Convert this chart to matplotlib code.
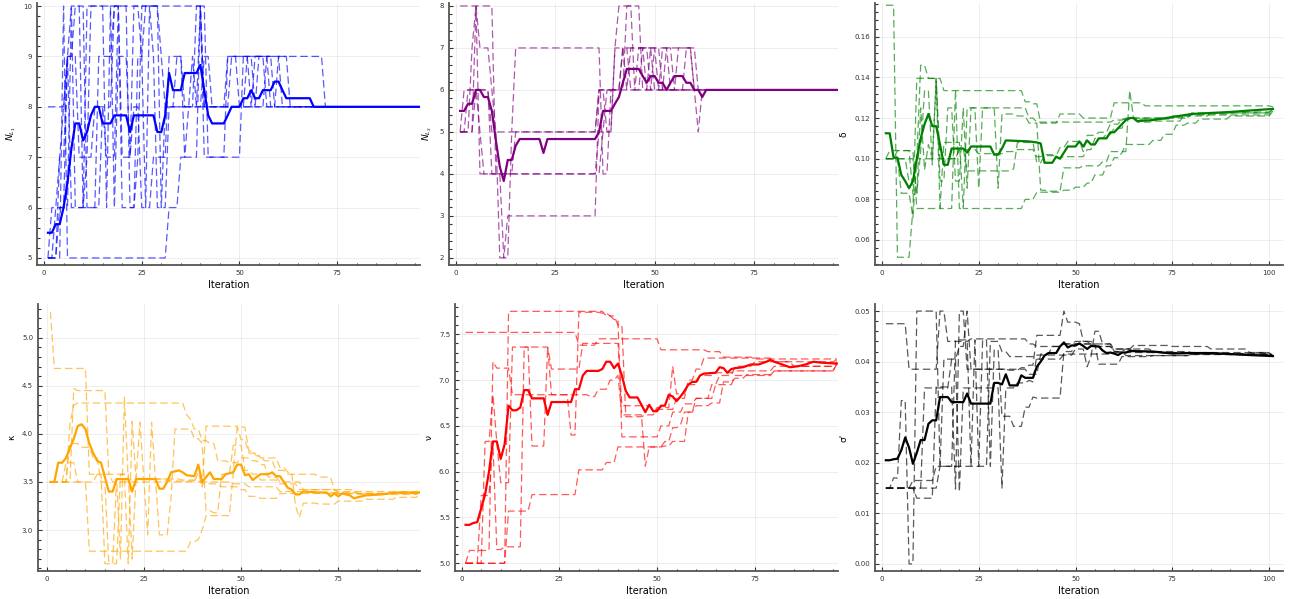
import numpy as np
import matplotlib
matplotlib.use("Agg")
from matplotlib import pyplot as plt
from matplotlib.ticker import AutoMinorLocator

# ---- data (change points: iteration -> value, held until next change) ----
n_short = 96
n_long = 101

nl1_runs = [
    [(1,8),(6,9),(7,10),(9,10),(10,6),(11,10),(15,10),(16,6),(17,10),(25,9),(26,10),(41,7),(47,9),(72,8)],
    [(1,5),(2,6),(4,7),(5,8),(6,9),(8,9),(9,7),(12,10),(18,6),(19,9),(22,7),(23,10),(30,9),(31,8),(40,10),(42,7),(51,9),(53,8),(55,9),(58,8)],
    [(1,5),(3,6),(5,6),(6,9),(8,10),(11,6),(14,9),(18,10),(22,6),(24,9),(26,6),(27,10),(28,9),(29,6),(32,8),(38,9),(39,8)],
    [(1,5),(5,10),(6,5),(31,5),(32,6),(35,7),(37,8),(39,10),(41,8),(47,9),(61,8)],
    [(1,5),(4,6),(7,10),(8,6),(15,8),(16,7),(19,10),(20,6),(24,7),(25,10),(30,6),(31,8),(34,9),(36,7),(40,10),(41,8),(54,9),(57,8),(60,9),(63,8)],
    [(1,5),(4,7),(6,9),(7,6),(11,7),(13,8),(18,10),(20,7),(23,8),(25,6),(28,7),(32,9),(36,8),(41,9),(43,8),(48,9),(50,8),(52,9),(54,8),(57,9),(59,8)],
]
nl1_mean = [(1,5.5),(2,5.5),(3,5.67),(4,5.67),(5,6.0),(6,6.5),(7,7.17),(8,7.67),(9,7.67),(10,7.33),(11,7.5),(12,7.83),
            (13,8.0),(14,8.0),(15,7.67),(17,7.67),(18,7.83),(21,7.83),(22,7.5),(23,7.83),(28,7.83),(29,7.5),(30,7.5),
            (31,7.83),(32,8.67),(33,8.33),(35,8.33),(36,8.67),(39,8.67),(40,8.83),(41,8.33),(42,7.83),(43,7.67),(46,7.67),
            (47,7.83),(48,8.0),(50,8.0),(51,8.17),(52,8.17),(53,8.33),(54,8.17),(55,8.17),(56,8.33),(58,8.33),(59,8.5),
            (60,8.5),(61,8.33),(62,8.17),(68,8.17),(69,8.0),(96,8.0)]

nl2_runs = [
    [(1,8),(10,4),(37,5),(40,7),(41,8),(47,6),(49,7),(50,6),(53,7),(55,6)],
    [(1,5),(3,6),(9,5),(11,2),(13,3),(36,6),(42,7),(44,6),(47,7),(49,6),(56,7),(61,6)],
    [(1,5),(4,7),(5,8),(6,7),(9,6),(10,5),(15,7),(37,4),(39,6),(42,7),(60,6)],
    [(1,5),(5,8),(6,4),(12,2),(14,5),(36,6),(44,7),(48,6),(52,7),(54,6),(58,7),(60,6)],
    [(1,5),(5,6),(6,5),(7,4),(15,5),(36,6),(38,5),(40,7),(43,6),(46,7),(52,6),(61,5),(62,6)],
    [(1,5),(2,6),(9,4),(36,5),(38,6),(43,8),(45,6),(50,7),(51,6)],
]
nl2_mean = [(1,5.5),(2,5.5),(3,5.67),(4,5.67),(5,6.0),(6,6.0),(7,5.83),(8,5.83),(9,5.5),(10,4.8),(11,4.17),(12,3.83),
            (13,4.33),(14,4.33),(15,4.67),(16,4.83),(21,4.83),(22,4.5),(23,4.83),(35,4.83),(36,5.0),(37,5.5),(39,5.5),
            (40,5.67),(41,5.83),(42,6.17),(43,6.5),(46,6.5),(47,6.33),(48,6.17),(49,6.33),(50,6.33),(51,6.17),(52,6.17),
            (53,6.0),(54,6.17),(55,6.33),(57,6.33),(58,6.17),(59,6.17),(60,6.0),(61,6.0),(62,5.83),(63,6.0),(96,6.0)]

delta_runs = [
    [(1,0.1755),(4,0.0515),(8,0.0755),(9,0.1395),(15,0.0755),(19,0.134),(20,0.0755),(22,0.125),(38,0.120),(40,0.118),
     (60,0.119),(63,0.120),(66,0.1195),(75,0.121),(85,0.1225),(101,0.125)],
    [(1,0.100),(2,0.104),(9,0.0755),(16,0.108),(21,0.0755),(37,0.080),(40,0.0835),(47,0.0845),(50,0.086),(53,0.088),
     (55,0.092),(58,0.0965),(60,0.1005),(62,0.103),(63,0.107),(70,0.109),(73,0.112),(76,0.1165),(79,0.1175),(82,0.1195),
     (90,0.121),(101,0.1235)],
    [(1,0.100),(5,0.083),(8,0.071),(9,0.100),(10,0.146),(12,0.1395),(16,0.1335),(37,0.128),(39,0.127),(41,0.1175),
     (46,0.122),(52,0.120),(60,0.1275),(68,0.126),(101,0.1255)],
    [(1,0.100),(9,0.083),(10,0.104),(11,0.1335),(13,0.097),(14,0.1395),(15,0.089),(17,0.125),(19,0.089),(21,0.125),
     (22,0.0855),(23,0.125),(25,0.0855),(26,0.125),(30,0.0855),(31,0.122),(35,0.121),(38,0.1175),(41,0.0845),(43,0.084),
     (47,0.0955),(52,0.0965),(57,0.0985),(59,0.1035),(64,0.1335),(65,0.120),(75,0.1205),(80,0.122),(90,0.1225),(101,0.1245)],
    [(1,0.100),(4,0.104),(8,0.0825),(10,0.125),(11,0.0945),(12,0.107),(13,0.100),(20,0.105),(22,0.094),(34,0.095),
     (35,0.108),(40,0.098),(42,0.1015),(46,0.1055),(48,0.1085),(52,0.1035),(53,0.1115),(56,0.113),(59,0.117),(62,0.1195),
     (66,0.118),(70,0.1185),(78,0.1215),(101,0.1245)],
    [(1,0.100),(7,0.0885),(9,0.100),(14,0.138),(15,0.100),(20,0.1045),(25,0.1025),(32,0.1035),(35,0.1045),(40,0.101),
     (42,0.102),(45,0.1005),(47,0.101),(53,0.1045),(55,0.110),(58,0.112),(60,0.115),(63,0.120),(80,0.1225),(90,0.123),(101,0.124)],
]
delta_mean = [(1,0.1125),(2,0.1125),(3,0.1005),(4,0.1005),(5,0.092),(6,0.089),(7,0.0855),(8,0.089),(9,0.100),(10,0.110),
              (11,0.117),(12,0.122),(13,0.116),(14,0.116),(15,0.107),(16,0.097),(17,0.097),(18,0.105),(21,0.105),(22,0.103),
              (23,0.106),(28,0.106),(29,0.102),(30,0.102),(31,0.105),(32,0.109),(38,0.1085),(40,0.108),(41,0.1075),(42,0.098),
              (44,0.098),(45,0.101),(46,0.100),(47,0.103),(48,0.106),(50,0.106),(51,0.1085),(52,0.106),(53,0.109),(54,0.107),
              (55,0.107),(56,0.110),(58,0.110),(59,0.113),(60,0.113),(61,0.115),(62,0.117),(63,0.119),(64,0.120),(65,0.120),
              (66,0.1185),(70,0.119),(75,0.1205),(80,0.122),(85,0.1225),(90,0.123),(95,0.1237),(101,0.1245)]

kappa_runs = [
    [(1,5.27),(2,4.68),(11,3.58),(15,2.65),(19,3.58),(21,2.65),(22,4.13),(23,3.53),(35,3.52),(40,3.50),(48,3.48),
     (52,3.45),(60,3.40),(70,3.39),(80,3.38),(96,3.38)],
    [(1,3.5),(7,4.47),(8,4.45),(16,3.58),(22,2.70),(23,3.53),(29,2.95),(32,3.33),(33,4.05),(38,3.95),(40,3.90),
     (41,3.20),(43,3.18),(45,3.58),(48,3.88),(51,3.62),(53,3.58),(55,3.52),(60,3.48),(65,3.42),(75,3.40),(96,3.41)],
    [(1,3.5),(6,4.10),(7,4.30),(8,4.32),(36,4.20),(37,4.15),(38,4.05),(40,3.93),(42,3.90),(44,3.72),(47,3.70),(50,3.75),
     (53,3.72),(55,3.68),(57,3.55),(60,3.50),(66,3.42),(75,3.38),(96,3.40)],
    [(1,3.5),(5,3.70),(8,3.50),(11,2.78),(37,2.88),(39,2.90),(40,3.00),(41,3.15),(48,3.60),(49,4.07),(52,3.82),
     (54,3.77),(56,3.72),(59,3.62),(62,3.58),(70,3.55),(74,3.42),(80,3.38),(96,3.42)],
    [(1,3.5),(6,3.90),(9,3.86),(12,3.75),(14,3.50),(16,2.66),(18,3.53),(19,2.70),(20,4.38),(21,3.52),(24,4.12),
     (25,3.53),(26,2.95),(27,4.12),(28,3.53),(32,3.50),(39,3.60),(40,3.45),(41,4.08),(50,3.94),(52,3.80),(55,3.75),
     (60,3.65),(62,3.60),(64,3.25),(65,3.13),(66,3.28),(70,3.27),(75,3.30),(82,3.32),(90,3.34),(96,3.38)],
    [(1,3.5),(13,3.58),(17,3.50),(30,3.51),(40,3.48),(45,3.45),(50,3.42),(52,3.35),(55,3.33),(60,3.38),(80,3.37),(96,3.39)],
]
kappa_mean = [(1,3.5),(2,3.5),(3,3.7),(4,3.7),(5,3.75),(6,3.85),(7,3.95),(8,4.08),(9,4.1),(10,4.05),(11,3.9),(12,3.8),
              (13,3.72),(14,3.7),(15,3.55),(16,3.4),(17,3.4),(18,3.53),(21,3.53),(22,3.4),(23,3.53),(28,3.53),(29,3.43),
              (30,3.43),(31,3.5),(32,3.6),(34,3.62),(35,3.6),(36,3.57),(38,3.56),(39,3.68),(40,3.5),(41,3.55),(42,3.6),
              (43,3.53),(45,3.53),(46,3.58),(48,3.6),(49,3.68),(50,3.68),(51,3.57),(52,3.58),(53,3.52),(54,3.55),(55,3.58),
              (57,3.58),(58,3.6),(59,3.56),(60,3.56),(61,3.5),(62,3.44),(63,3.42),(64,3.37),(65,3.37),(66,3.4),(70,3.39),
              (72,3.39),(73,3.35),(74,3.38),(75,3.35),(76,3.38),(78,3.36),(79,3.33),(80,3.34),(82,3.36),(86,3.37),
              (90,3.39),(96,3.39)]

nu_runs = [
    [(1,7.52),(28,7.52),(30,7.38),(35,7.45),(51,7.33),(63,7.31),(67,7.25),(75,7.23),(96,7.23)],
    [(1,5.0),(2,5.14),(8,7.20),(9,7.13),(13,6.84),(33,6.82),(35,6.90),(38,7.0),(40,7.05),(41,6.62),(47,6.06),(48,6.27),
     (52,6.33),(54,6.48),(56,6.51),(57,6.65),(60,6.80),(65,6.95),(70,7.05),(80,7.10),(96,7.17)],
    [(1,5.0),(6,6.33),(8,6.84),(9,6.32),(10,5.88),(13,7.36),(23,7.12),(31,7.40),(39,7.40),(41,6.72),(49,6.68),(55,6.80),
     (58,7.0),(60,7.12),(62,7.24),(80,7.20),(96,7.22)],
    [(1,5.0),(5,5.74),(8,6.32),(9,5.15),(11,5.18),(16,7.36),(18,6.28),(22,7.36),(23,6.84),(28,6.40),(30,7.74),(36,7.73),
     (38,7.70),(40,7.60),(42,6.60),(47,6.62),(50,6.70),(54,7.15),(55,6.85),(58,6.95),(61,7.05),(65,7.08),(70,7.10),
     (80,7.15),(96,7.20)],
    [(1,5.0),(12,7.75),(35,7.75),(37,7.70),(39,7.66),(41,6.38),(51,6.50),(54,6.65),(57,6.74),(60,6.80),(64,6.95),
     (66,7.05),(70,7.15),(75,7.20),(85,7.15),(96,7.17)],
    [(1,5.0),(12,5.57),(18,5.75),(30,6.02),(37,6.10),(40,6.27),(52,6.28),(54,6.33),(58,6.65),(60,6.72),(64,6.75),
     (67,6.98),(70,7.02),(73,7.06),(80,7.10),(96,7.17)],
]
nu_mean = [(1,5.42),(2,5.42),(3,5.44),(4,5.45),(5,5.6),(6,5.75),(7,6.0),(8,6.33),(9,6.33),(10,6.14),(11,6.3),(12,6.72),
           (13,6.67),(14,6.67),(15,6.7),(16,6.89),(17,6.89),(18,6.8),(21,6.8),(22,6.62),(23,6.76),(28,6.76),(29,6.9),
           (30,6.9),(31,7.05),(32,7.1),(35,7.1),(36,7.12),(37,7.2),(38,7.2),(39,7.13),(40,7.18),(41,7.05),(42,6.88),
           (43,6.81),(45,6.81),(46,6.73),(47,6.65),(48,6.73),(49,6.66),(50,6.66),(51,6.72),(52,6.72),(53,6.84),(54,6.82),
           (55,6.77),(56,6.82),(57,6.88),(58,6.95),(59,6.98),(60,6.98),(61,7.05),(62,7.07),(65,7.08),(66,7.14),(67,7.13),
           (68,7.08),(69,7.12),(70,7.13),(72,7.14),(74,7.17),(76,7.17),(78,7.2),(79,7.22),(80,7.2),(82,7.17),(84,7.14),
           (86,7.15),(88,7.17),(90,7.2),(92,7.19),(96,7.18)]

sigma_runs = [
    [(1,0.0475),(7,0.0385),(15,0.050),(17,0.044),(23,0.0445),(38,0.0435),(40,0.043),(47,0.0435),(55,0.043),(60,0.0425),
     (65,0.0432),(75,0.043),(85,0.0425),(95,0.0418),(101,0.0412)],
    [(1,0.015),(3,0.017),(5,0.0323),(7,0.000),(9,0.050),(15,0.0193),(28,0.044),(31,0.042),(33,0.041),(40,0.0405),
     (47,0.0415),(60,0.0418),(80,0.0416),(101,0.0411)],
    [(1,0.015),(9,0.013),(14,0.035),(19,0.0148),(20,0.050),(22,0.0385),(33,0.0383),(36,0.0388),(38,0.0393),(40,0.0452),
     (47,0.050),(48,0.0478),(51,0.0475),(52,0.044),(54,0.0435),(56,0.0395),(62,0.041),(70,0.0412),(80,0.0415),(101,0.0412)],
    [(1,0.015),(11,0.0348),(18,0.0405),(20,0.0143),(21,0.0348),(31,0.015),(32,0.0348),(35,0.0358),(38,0.0363),(39,0.036),
     (40,0.0413),(50,0.0425),(53,0.039),(54,0.041),(55,0.046),(57,0.0435),(60,0.042),(63,0.0425),(70,0.042),(80,0.0418),
     (101,0.0411)],
    [(1,0.015),(15,0.0193),(19,0.0443),(23,0.0193),(24,0.0443),(25,0.0193),(26,0.0443),(28,0.0193),(29,0.0423),
     (31,0.0292),(34,0.0272),(37,0.031),(39,0.033),(40,0.0328),(47,0.042),(50,0.0435),(55,0.043),(60,0.042),(63,0.0412),
     (80,0.0414),(101,0.0411)],
    [(1,0.015),(8,0.0165),(14,0.0193),(16,0.0405),(20,0.043),(22,0.050),(23,0.0385),(38,0.0375),(41,0.0415),(44,0.043),
     (47,0.0435),(50,0.044),(55,0.0435),(60,0.0425),(65,0.042),(70,0.0418),(80,0.0415),(90,0.0414),(101,0.0411)],
]
sigma_mean = [(1,0.0205),(2,0.0205),(3,0.0207),(4,0.0208),(5,0.0225),(6,0.025),(7,0.023),(8,0.0198),(9,0.022),(10,0.0245),
              (11,0.0245),(12,0.0277),(13,0.0284),(14,0.0284),(15,0.033),(17,0.033),(18,0.032),(21,0.032),(22,0.0337),
              (23,0.0317),(28,0.0317),(29,0.0358),(30,0.0358),(31,0.0355),(32,0.0375),(33,0.0353),(35,0.0353),(36,0.0373),
              (37,0.0368),(39,0.0368),(40,0.039),(41,0.040),(42,0.0412),(43,0.0417),(45,0.0417),(46,0.043),(47,0.0438),
              (48,0.0428),(49,0.0432),(50,0.0432),(51,0.0436),(52,0.0431),(53,0.0425),(54,0.0431),(56,0.043),(57,0.0422),
              (58,0.0417),(59,0.0418),(60,0.0416),(61,0.0413),(62,0.0418),(63,0.0418),(64,0.0421),(70,0.042),(75,0.0416),
              (80,0.0417),(85,0.0417),(90,0.0415),(95,0.0413),(101,0.0411)]


def expand(pts, n):
    # hold each value until the next change point
    xs = np.arange(1, n + 1)
    out = np.empty(n)
    px = [p[0] for p in pts]
    pv = [p[1] for p in pts]
    for i, x in enumerate(xs):
        k = np.searchsorted(px, x, side="right") - 1
        out[i] = pv[k]
    return xs, out


fig = plt.figure(figsize=(12.9, 5.99), dpi=100)
W, H = 1290.0, 599.0

panels = [
    # runs, mean, n, colour, ylabel, box(px: left, top, right, bottom), xlim, ylim, yticks, yfmt, xticks
    (nl1_runs, nl1_mean, n_short, "#0000ff", r"$N_{L_1}$", (37, 3, 420, 265), (-1.8, 96.2), (4.86, 10.06),
     [5, 6, 7, 8, 9, 10], "%d", [0, 25, 50, 75]),
    (nl2_runs, nl2_mean, n_short, "#800080", r"$N_{L_2}$", (449, 3, 838, 265), (-1.8, 96.2), (1.83, 8.07),
     [2, 3, 4, 5, 6, 7, 8], "%d", [0, 25, 50, 75]),
    (delta_runs, delta_mean, n_long, "#008000", "δ", (875, 3, 1283, 265), (-1.8, 103.6), (0.0477, 0.1766),
     [0.06, 0.08, 0.10, 0.12, 0.14, 0.16], "%.2f", [0, 25, 50, 75, 100]),
    (kappa_runs, kappa_mean, n_short, "#ffa500", "κ", (38, 304, 420, 571), (-2.2, 96.0), (2.574, 5.35),
     [3.0, 3.5, 4.0, 4.5, 5.0], "%.1f", [0, 25, 50, 75]),
    (nu_runs, nu_mean, n_short, "#ff0000", "ν", (455, 304, 838, 571), (-1.7, 96.3), (4.916, 7.83),
     [5.0, 5.5, 6.0, 6.5, 7.0, 7.5], "%.1f", [0, 25, 50, 75]),
    (sigma_runs, sigma_mean, n_long, "#000000", "σ'", (875, 304, 1283, 571), (-1.8, 103.6), (-0.0014, 0.0514),
     [0.00, 0.01, 0.02, 0.03, 0.04, 0.05], "%.2f", [0, 25, 50, 75, 100]),
]

for runs, mean, n, col, ylab, box, xl, yl, yt, yfmt, xt in panels:
    l, t, r, b = box
    ax = fig.add_axes([l / W, 1 - b / H, (r - l) / W, (b - t) / H])
    for run in runs:
        xs, ys = expand(run, n)
        ax.plot(xs, ys, color=col, lw=0.9, ls=(0, (6, 3)), alpha=0.65)
    ax.plot([p[0] for p in mean], [p[1] for p in mean], color=col, lw=1.6)
    ax.set_xlim(*xl)
    ax.set_ylim(*yl)
    ax.set_xticks(xt)
    ax.set_yticks(yt)
    ax.set_yticklabels([yfmt % v for v in yt])
    ax.xaxis.set_minor_locator(AutoMinorLocator(5))
    ax.yaxis.set_minor_locator(AutoMinorLocator(5))
    ax.tick_params(which="both", direction="in", labelsize=5, colors="#333333", width=0.8)
    ax.tick_params(which="major", length=3)
    ax.tick_params(which="minor", length=1.8)
    ax.grid(True, which="major", color="#000000", alpha=0.08, lw=0.6)
    for s in ["top", "right"]:
        ax.spines[s].set_visible(False)
    for s in ["left", "bottom"]:
        ax.spines[s].set_color("#555555")
        ax.spines[s].set_linewidth(1.3)
    ax.set_xlabel("Iteration", fontsize=7, labelpad=3)
    ax.set_ylabel(ylab, fontsize=6.5, labelpad=4)

fig.savefig("out.png", dpi=100)
